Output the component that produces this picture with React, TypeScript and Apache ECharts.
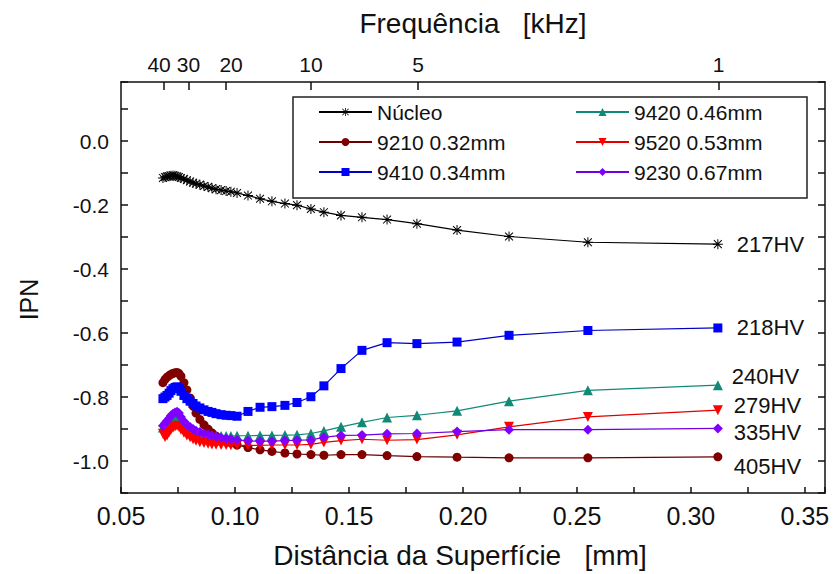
import React, { useEffect, useRef } from 'react';
import * as echarts from 'echarts';

// Distance from surface [mm] for each measurement point (shared by all series)
const distances = [
  0.0684, 0.0693, 0.0702, 0.0711, 0.0719, 0.0728, 0.0737, 0.0746, 0.0754, 0.0763,
  0.0776, 0.0789, 0.0803, 0.0816, 0.0829, 0.0846, 0.0864, 0.0882, 0.0899, 0.0917,
  0.0939, 0.0961, 0.0982, 0.1009, 0.1057, 0.1110, 0.1162, 0.1219, 0.1272, 0.1333,
  0.1390, 0.1465, 0.1557, 0.1667, 0.1798, 0.1974, 0.2202, 0.2548, 0.3118,
];

const nucleo = [
  -0.115, -0.112, -0.110, -0.110, -0.108, -0.107, -0.108, -0.110, -0.112, -0.115,
  -0.118, -0.122, -0.126, -0.130, -0.133, -0.136, -0.140, -0.143, -0.147, -0.150,
  -0.153, -0.156, -0.158, -0.162, -0.170, -0.180, -0.188, -0.195, -0.200, -0.212,
  -0.222, -0.232, -0.238, -0.245, -0.258, -0.278, -0.298, -0.316, -0.322,
];

const s9210 = [
  -0.755, -0.745, -0.738, -0.733, -0.729, -0.726, -0.724, -0.723, -0.726, -0.735,
  -0.755, -0.778, -0.803, -0.828, -0.850, -0.870, -0.887, -0.900, -0.912, -0.922,
  -0.930, -0.937, -0.943, -0.950, -0.958, -0.965, -0.970, -0.975, -0.978, -0.980,
  -0.982, -0.980, -0.980, -0.983, -0.986, -0.988, -0.990, -0.990, -0.987,
];

const s9410 = [
  -0.805, -0.800, -0.795, -0.788, -0.780, -0.774, -0.770, -0.768, -0.772, -0.782,
  -0.795, -0.805, -0.813, -0.820, -0.828, -0.834, -0.840, -0.845, -0.848, -0.852,
  -0.855, -0.857, -0.858, -0.860, -0.845, -0.832, -0.830, -0.826, -0.817, -0.799,
  -0.765, -0.711, -0.654, -0.630, -0.633, -0.628, -0.607, -0.592, -0.584,
];

const s9420 = [
  -0.895, -0.888, -0.882, -0.876, -0.871, -0.868, -0.866, -0.866, -0.870, -0.878,
  -0.888, -0.897, -0.903, -0.908, -0.912, -0.915, -0.918, -0.920, -0.921, -0.922,
  -0.922, -0.922, -0.922, -0.921, -0.921, -0.920, -0.920, -0.919, -0.918, -0.914,
  -0.906, -0.893, -0.879, -0.864, -0.857, -0.843, -0.813, -0.779, -0.763,
];

const s9520 = [
  -0.915, -0.925, -0.920, -0.910, -0.902, -0.896, -0.892, -0.890, -0.893, -0.902,
  -0.912, -0.920, -0.926, -0.932, -0.937, -0.941, -0.944, -0.946, -0.948, -0.949,
  -0.950, -0.950, -0.951, -0.951, -0.951, -0.951, -0.950, -0.950, -0.950, -0.948,
  -0.942, -0.936, -0.932, -0.935, -0.933, -0.918, -0.893, -0.862, -0.841,
];

const s9230 = [
  -0.890, -0.882, -0.874, -0.866, -0.858, -0.852, -0.848, -0.846, -0.850, -0.862,
  -0.876, -0.886, -0.894, -0.900, -0.905, -0.909, -0.913, -0.917, -0.921, -0.924,
  -0.927, -0.930, -0.932, -0.934, -0.937, -0.938, -0.938, -0.936, -0.935, -0.934,
  -0.926, -0.920, -0.919, -0.915, -0.914, -0.908, -0.902, -0.902, -0.898,
];

const seriesNames = ['Núcleo', '9210 0.32mm', '9410 0.34mm', '9420 0.46mm', '9520 0.53mm', '9230 0.67mm'];
// hardness of each series, same order as seriesNames
const hardnessLabels = ['217HV', '405HV', '218HV', '240HV', '279HV', '335HV'];

// Top axis: frequency labels and where they fall on the distance scale
const freqLabels = ['40', '30', '20', '10', '5', '1'];
const freqPositions = [0.0689, 0.0796, 0.0961, 0.1333, 0.1803, 0.3121];

const X_MIN = 0.05;
const X_MAX = 0.3588;
const Y_MIN = -1.1;
const Y_MAX = 0.185;

const FONT = '"Liberation Sans", Arial, Helvetica, sans-serif';
const TXT = '#111';

const STAR =
  'path://M9 0H11V20H9Z M0 9H20V11H0Z M1.4 2.8L2.8 1.4L18.6 17.2L17.2 18.6Z M17.2 1.4L18.6 2.8L2.8 18.6L1.4 17.2Z';

export default function App() {
  const ref = useRef<HTMLDivElement>(null);

  useEffect(() => {
    if (!ref.current) return;
    const chart = echarts.init(ref.current, null, { renderer: 'svg' });

    const axisLineStyle = { color: '#111', width: 1.5 };

    const seriesDefs = [
      { ys: nucleo, color: '#000000', line: '#000000', symbol: STAR, size: 10, off: [11, 0] },
      { ys: s9210, color: '#800000', line: '#6a0000', symbol: 'circle', size: 9, off: [8, 10] },
      { ys: s9410, color: '#0000ff', line: '#0000c0', symbol: 'rect', size: 9, off: [11, 0] },
      { ys: s9420, color: '#108a78', line: '#108a78', symbol: 'triangle', size: 10, off: [6, -9] },
      { ys: s9520, color: '#ff0000', line: '#e00000', symbol: 'path://M0 0L10 0L5 9Z', size: 10, off: [8, -5] },
      { ys: s9230, color: '#8000ff', line: '#7000e0', symbol: 'diamond', size: 10, off: [8, 4] },
    ];

    const series = seriesDefs.map((d, i) => ({
      name: seriesNames[i],
      type: 'line',
      xAxisIndex: 0,
      yAxisIndex: 0,
      data: distances.map((x, k) => [x, d.ys[k]]),
      symbol: d.symbol,
      symbolSize: d.size,
      showSymbol: true,
      showAllSymbol: true,
      lineStyle: { color: d.line, width: 1.2 },
      itemStyle: { color: d.color, borderWidth: 0 },
      emphasis: { disabled: true },
      endLabel: {
        show: true,
        formatter: hardnessLabels[i],
        distance: 8,
        offset: d.off,
        color: TXT,
        fontSize: 22,
        fontFamily: FONT,
      },
      z: 2 + i,
    }));

    const yLabelFmt = (v: number) => {
      const r = Math.round(v * 10);
      if (Math.abs(v * 10 - r) > 1e-6) return '';
      if (r % 2 !== 0) return '';
      return (r / 10).toFixed(1);
    };
    const xLabelFmt = (v: number) => {
      const r = Math.round(v * 100);
      if (Math.abs(v * 100 - r) > 1e-6) return '';
      if (r % 5 !== 0) return '';
      return (r / 100).toFixed(2);
    };
    const freqFmt = (v: number) => {
      let best = 0;
      for (let i = 1; i < freqPositions.length; i++) {
        if (Math.abs(freqPositions[i] - v) < Math.abs(freqPositions[best] - v)) best = i;
      }
      const t = freqLabels[best];
      if (best === 0) return '{l|' + t + '}';
      if (best === 2) return '{r|' + t + '}';
      return t;
    };

    const legendCommon = {
      orient: 'vertical',
      itemWidth: 53,
      itemHeight: 10,
      itemGap: 8,
      textStyle: { fontSize: 21, color: TXT, fontFamily: FONT, lineHeight: 22 },
      padding: 0,
      selectedMode: false,
    };

    chart.setOption({
      animation: false,
      backgroundColor: '#ffffff',
      textStyle: { fontFamily: FONT },
      grid: { left: 121, right: 8, top: 82, bottom: 79, containLabel: false },
      legend: [
        { ...legendCommon, left: 318, top: 101, data: [seriesNames[0], seriesNames[1], seriesNames[2]] },
        { ...legendCommon, left: 575, top: 101, data: [seriesNames[3], seriesNames[4], seriesNames[5]] },
      ],
      graphic: [
        {
          type: 'rect',
          shape: { x: 293, y: 97, width: 514, height: 101 },
          style: { fill: 'none', stroke: '#222', lineWidth: 1.5 },
          z: 10,
        },
      ],
      xAxis: [
        {
          type: 'value',
          position: 'bottom',
          min: X_MIN,
          max: X_MAX,
          interval: 0.025,
          name: 'Distância da Superfície   [mm]',
          nameLocation: 'middle',
          nameGap: 48,
          nameTextStyle: { fontSize: 28, color: TXT, fontFamily: FONT, padding: [0, 26, 0, 0] },
          axisLine: { show: true, onZero: false, lineStyle: axisLineStyle },
          axisTick: { show: true, inside: true, length: 6, lineStyle: axisLineStyle },
          axisLabel: { formatter: xLabelFmt, fontSize: 25, color: TXT, margin: 10, fontFamily: FONT },
          splitLine: { show: false },
        },
        {
          type: 'value',
          position: 'top',
          min: X_MIN,
          max: X_MAX,
          name: 'Frequência   [kHz]',
          nameLocation: 'middle',
          nameGap: 45,
          nameTextStyle: { fontSize: 28, color: TXT, fontFamily: FONT },
          axisLine: { show: true, onZero: false, lineStyle: axisLineStyle },
          axisTick: { show: true, inside: true, length: 8, customValues: freqPositions, lineStyle: axisLineStyle },
          axisLabel: {
            customValues: freqPositions,
            formatter: freqFmt,
            fontSize: 21,
            color: TXT,
            margin: 7,
            fontFamily: FONT,
            rich: {
              l: { fontSize: 21, color: TXT, fontFamily: FONT, padding: [0, 10, 0, 0] },
              r: { fontSize: 21, color: TXT, fontFamily: FONT, padding: [0, 0, 0, 10] },
            },
          },
          splitLine: { show: false },
        },
      ],
      yAxis: [
        {
          type: 'value',
          position: 'left',
          min: Y_MIN,
          max: Y_MAX,
          interval: 0.1,
          name: 'IPN',
          nameLocation: 'middle',
          nameGap: 80,
          nameTextStyle: { fontSize: 25, color: TXT, fontFamily: FONT, padding: [0, 24, 0, 0] },
          axisLine: { show: true, onZero: false, lineStyle: axisLineStyle },
          axisTick: { show: true, inside: true, length: 7, lineStyle: axisLineStyle },
          axisLabel: { formatter: yLabelFmt, fontSize: 21, color: TXT, margin: 12, fontFamily: FONT },
          splitLine: { show: false },
        },
        {
          type: 'value',
          position: 'right',
          min: Y_MIN,
          max: Y_MAX,
          interval: 0.1,
          axisLine: { show: true, onZero: false, lineStyle: axisLineStyle },
          axisTick: { show: true, inside: true, length: 7, lineStyle: axisLineStyle },
          axisLabel: { show: false },
          splitLine: { show: false },
        },
      ],
      series,
    });

    return () => chart.dispose();
  }, []);

  return (
    <div
      ref={ref}
      style={{ position: 'fixed', left: 0, top: 0, width: 833, height: 574, background: '#fff' }}
    />
  );
}
